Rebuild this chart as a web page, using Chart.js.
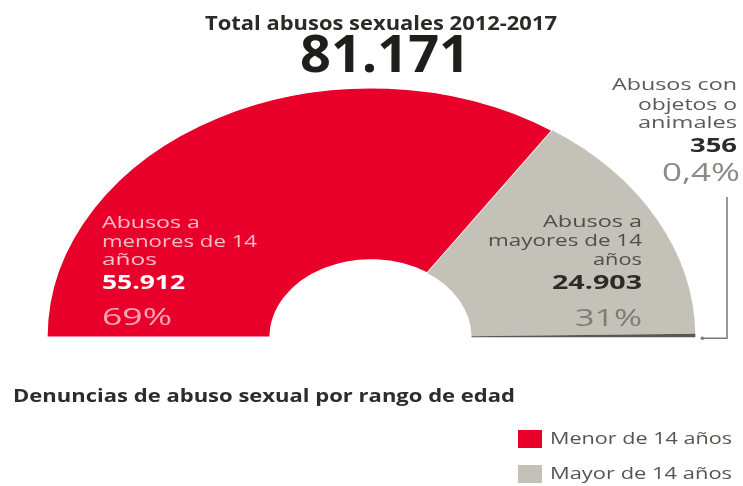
<!DOCTYPE html>
<html>
<head>
<meta charset="utf-8">
<script src="https://cdn.jsdelivr.net/npm/chart.js@4"></script>
<style>
  html, body { margin: 0; padding: 0; background: #fff; }
  #wrap { width: 743px; height: 486px; position: relative; }
</style>
</head>
<body>
<div id="wrap"><canvas id="c"></canvas></div>
<script>
// ---- data ----
const categories = ['Abusos a menores de 14 años', 'Abusos a mayores de 14 años', 'Abusos con objetos o animales'];
const values = [55912, 24903, 356];
const percentLabels = ['69%', '31%', '0,4%'];
const legendLabels = ['Menor de 14 años', 'Mayor de 14 años'];
const titleText = 'Total abusos sexuales 2012-2017';
const subtitleText = 'Denuncias de abuso sexual por rango de edad';
const labelLines = [
  ['Abusos a', 'menores de 14', 'años'],
  ['Abusos a', 'mayores de 14', 'años'],
  ['Abusos con', 'objetos o', 'animales']
];

// ---- style ----
const colors = ['#e8002b', '#c4c1b8', '#58584f'];
const STRETCH = 1.3;
const FONT = '"Open Sans", "Liberation Sans", sans-serif';

function fmt(n) {
  return String(n).replace(/\B(?=(\d{3})+(?!\d))/g, '.');
}
const total = values.reduce((a, b) => a + b, 0);

function fitText(ctx, text, x, y, font, color, align, width) {
  ctx.save();
  ctx.font = font;
  const w = ctx.measureText(text).width;
  const sx = width ? width / w : 1;
  ctx.translate(x, y);
  ctx.scale(sx, 1);
  ctx.textAlign = align;
  ctx.textBaseline = 'middle';
  ctx.fillStyle = color;
  ctx.fillText(text, 0, 0);
  ctx.restore();
}

const stretchPlugin = {
  id: 'stretch',
  beforeDatasetsDraw(chart) {
    const arc = chart.getDatasetMeta(0).data[0];
    const ctx = chart.ctx;
    ctx.save();
    ctx.translate(arc.x, arc.y);
    ctx.scale(STRETCH, 1);
    ctx.translate(-arc.x, -arc.y);
  },
  afterDatasetsDraw(chart) {
    chart.ctx.restore();
  }
};

const textPlugin = {
  id: 'texts',
  afterDraw(chart) {
    const ctx = chart.ctx;
    // header
    fitText(ctx, titleText, 381, 25, 'bold 19px ' + FONT, '#2a2a28', 'center', 352);
    fitText(ctx, fmt(total), 385, 57, 'bold 52px ' + FONT, '#1e1e1a', 'center', 170);

    // red label (left aligned)
    const pink = '#f8bfca';
    fitText(ctx, labelLines[0][0], 102, 223, '16px ' + FONT, pink, 'left', 98);
    fitText(ctx, labelLines[0][1], 102, 242, '16px ' + FONT, pink, 'left', 155);
    fitText(ctx, labelLines[0][2], 102, 260, '16px ' + FONT, pink, 'left', 55);
    fitText(ctx, fmt(values[0]), 102, 284, 'bold 19px ' + FONT, '#ffffff', 'left', 83);
    fitText(ctx, percentLabels[0], 102, 318, '24px ' + FONT, '#f7a6b6', 'left', 70);

    // gray label (right aligned)
    const dk = '#4e4e4a';
    fitText(ctx, labelLines[1][0], 642, 222, '16px ' + FONT, dk, 'right', 99);
    fitText(ctx, labelLines[1][1], 642, 241, '16px ' + FONT, dk, 'right', 154);
    fitText(ctx, labelLines[1][2], 642, 260, '16px ' + FONT, dk, 'right', 49);
    fitText(ctx, fmt(values[1]), 642, 284, 'bold 19px ' + FONT, '#2b2b28', 'right', 90);
    fitText(ctx, percentLabels[1], 642, 319, '24px ' + FONT, '#7d7d78', 'right', 67);

    // small slice label
    fitText(ctx, labelLines[2][0], 737, 85, '16px ' + FONT, '#5a5a56', 'right', 125);
    fitText(ctx, labelLines[2][1], 737, 105, '16px ' + FONT, '#5a5a56', 'right', 99);
    fitText(ctx, labelLines[2][2], 737, 123, '16px ' + FONT, '#5a5a56', 'right', 99);
    fitText(ctx, fmt(values[2]), 737, 147, 'bold 19px ' + FONT, '#2b2b28', 'right', 47);
    fitText(ctx, percentLabels[2], 740, 174, '25px ' + FONT, '#8a8a86', 'right', 78);

    // connector from small slice to its label
    const meta = chart.getDatasetMeta(0);
    const a = meta.data[2];
    const cx = a.x, cy = a.y;
    const ox = cx + a.outerRadius * STRETCH;
    ctx.save();
    ctx.strokeStyle = '#7a7a76';
    ctx.lineWidth = 1.5;
    ctx.beginPath();
    ctx.moveTo(ox + 7, cy + 1);
    ctx.lineTo(727, cy + 1);
    ctx.lineTo(727, 197);
    ctx.stroke();
    ctx.fillStyle = '#7a7a76';
    ctx.beginPath();
    ctx.arc(ox + 7, cy + 1, 1.8, 0, Math.PI * 2);
    ctx.fill();
    ctx.restore();

    // subtitle
    fitText(ctx, subtitleText, 13, 397, 'bold 17px ' + FONT, '#2c2c2a', 'left', 502);

    // legend
    const ly = [439, 474];
    for (let i = 0; i < legendLabels.length; i++) {
      ctx.fillStyle = colors[i];
      ctx.fillRect(518, ly[i] - 9, 24, 18);
      fitText(ctx, legendLabels[i], 550, ly[i], '17px ' + FONT, '#555552', 'left', 182);
    }
  }
};

new Chart(document.getElementById('c'), {
  type: 'doughnut',
  data: {
    labels: categories,
    datasets: [{
      data: values,
      backgroundColor: colors,
      borderColor: '#ffffff',
      borderWidth: [1.5, 0, 0],
      hoverOffset: 0
    }]
  },
  options: {
    responsive: true,
    maintainAspectRatio: false,
    animation: false,
    rotation: -90,
    circumference: 180,
    cutout: '31%',
    layout: { padding: { left: 120, right: 121, top: 87, bottom: 148 } },
    plugins: {
      legend: { display: false },
      tooltip: { enabled: false },
      title: { display: false }
    }
  },
  plugins: [stretchPlugin, textPlugin]
});
</script>
</body>
</html>
